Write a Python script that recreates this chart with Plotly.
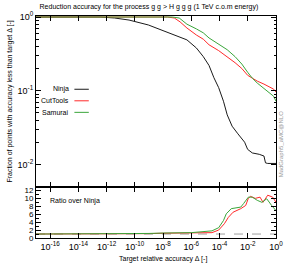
import plotly.graph_objects as go
from plotly.subplots import make_subplots

# ---------------- data ----------------
ninja_x = [1e-17, 3.5e-13, 3.7e-12, 3.9e-11, 9.1e-10, 3.4e-8, 4.9e-7, 2.3e-6, 7.1e-6,
           1.8e-5, 4.0e-5, 8.7e-5, 1.9e-4, 3.5e-4, 7.8e-4, 2.0e-3, 6.0e-3, 9.8e-3,
           2.1e-2, 6.5e-2, 0.14, 0.18, 0.26, 1.0]
ninja_y = [1.0, 1.0, 0.97, 0.91, 0.78, 0.60, 0.49, 0.38, 0.29, 0.22, 0.15, 0.11, 0.072,
           0.047, 0.033, 0.026, 0.020, 0.0160, 0.0143, 0.0137, 0.0130, 0.0105, 0.0103, 0.0103]

cuttools_x = [1e-17, 2.1e-8, 6.3e-8, 1.6e-7, 4.9e-7, 2.3e-6, 7.1e-6, 1.8e-5, 8.7e-5,
              3.5e-4, 1.26e-3, 3.8e-3, 9.8e-3, 2.1e-2, 4.7e-2, 0.14, 0.36, 0.68, 1.0]
cuttools_y = [1.0, 1.0, 0.97, 0.86, 0.71, 0.57, 0.50, 0.42, 0.35, 0.29, 0.24, 0.20,
              0.162, 0.148, 0.135, 0.123, 0.112, 0.105, 0.096]

samurai_x = [1e-17, 4.6e-8, 1.4e-7, 4.9e-7, 2.3e-6, 7.1e-6, 1.8e-5, 8.7e-5, 3.5e-4,
             1.26e-3, 3.8e-3, 9.8e-3, 2.1e-2, 4.7e-2, 0.14, 0.36, 0.68, 1.0]
samurai_y = [1.0, 1.0, 0.97, 0.80, 0.69, 0.61, 0.52, 0.43, 0.36, 0.29, 0.23, 0.178,
             0.148, 0.127, 0.108, 0.093, 0.084, 0.072]

ratio_ct_x = [1e-17, 1e-10, 1e-9, 1e-8, 1e-7, 1e-6, 2.9e-5, 8.7e-5, 2.2e-4, 4.2e-4,
              9.1e-4, 3.2e-3, 7.1e-3, 1.1e-2, 1.55e-2, 3.4e-2, 7.4e-2, 0.12, 0.26, 0.58, 1.0]
ratio_ct_y = [1.0, 1.0, 1.1, 1.2, 1.25, 1.25, 1.35, 2.0, 3.6, 5.2, 6.5, 7.4, 8.2, 10.0,
              10.5, 10.0, 10.3, 9.0, 10.8, 10.3, 9.0]

ratio_sam_x = [1e-17, 1e-11, 1e-10, 1e-9, 1e-8, 1e-7, 1e-6, 2.9e-5, 8.7e-5, 1.9e-4,
               3.0e-4, 6.8e-4, 3.2e-3, 5.1e-3, 1.1e-2, 2.1e-2, 4.7e-2, 0.10, 0.22, 0.49, 1.0]
ratio_sam_y = [1.0, 1.0, 1.05, 1.15, 1.25, 1.3, 1.35, 1.8, 2.6, 4.4, 6.1, 7.4, 7.8, 8.7,
               10.3, 10.3, 9.5, 9.0, 9.9, 8.2, 6.9]

series_names = ["Ninja", "CutTools", "Samurai"]

x_tickvals = [1e-16, 1e-14, 1e-12, 1e-10, 1e-8, 1e-6, 1e-4, 1e-2, 1e0]
x_ticktext = ["10<sup>-16</sup>", "10<sup>-14</sup>", "10<sup>-12</sup>", "10<sup>-10</sup>",
              "10<sup>-8</sup>", "10<sup>-6</sup>", "10<sup>-4</sup>", "10<sup>-2</sup>",
              "10<sup>0</sup>"]
y_tickvals = [1e-2, 1e-1, 1e0]
y_ticktext = ["10<sup>-2</sup>", "10<sup>-1</sup>", "10<sup>0</sup>"]
y_minor = [0.02, 0.03, 0.04, 0.05, 0.06, 0.07, 0.08, 0.09,
           0.2, 0.3, 0.4, 0.5, 0.6, 0.7, 0.8, 0.9]
r_tickvals = [0, 2, 4, 6, 8, 10, 12]
r_minor = [1, 3, 5, 7, 9, 11]

BLACK = "#1a1a1a"
RED = "#ff2a2a"
GREEN = "#3aa63a"
COLORS = [BLACK, RED, GREEN]
FONT = "Liberation Sans, Arial, sans-serif"

fig = make_subplots(rows=2, cols=1, shared_xaxes=True, vertical_spacing=0,
                    row_heights=[0.77, 0.23])

for name, xs, ys, c in zip(series_names, [ninja_x, cuttools_x, samurai_x],
                           [ninja_y, cuttools_y, samurai_y], COLORS):
    fig.add_trace(go.Scatter(x=xs, y=ys, mode="lines", name=name, showlegend=False,
                             line=dict(color=c, width=1)), row=1, col=1)

fig.add_trace(go.Scatter(x=ratio_ct_x, y=ratio_ct_y, mode="lines", showlegend=False,
                         line=dict(color=RED, width=1)), row=2, col=1)
fig.add_trace(go.Scatter(x=ratio_sam_x, y=ratio_sam_y, mode="lines", showlegend=False,
                         line=dict(color=GREEN, width=1)), row=2, col=1)
fig.add_hline(y=1, line=dict(color="#888888", width=0.8, dash="dash"), row=2, col=1,
              layer="below")

axis_common = dict(showline=True, linecolor="black", linewidth=1, mirror="ticks",
                   ticks="inside", tickcolor="black", ticklen=5, tickwidth=1,
                   showgrid=False, zeroline=False,
                   tickfont=dict(family=FONT, size=9, color="black"))

fig.update_xaxes(type="log", range=[-17, 0], tickvals=x_tickvals, ticktext=x_ticktext,
                 **axis_common)
fig.update_xaxes(showticklabels=False, row=1, col=1)

fig.update_yaxes(type="log", range=[-2.306, 0.014], tickvals=y_tickvals,
                 ticktext=y_ticktext,
                 minor=dict(tickvals=y_minor, ticks="inside", ticklen=2.5,
                            tickcolor="black"),
                 title=dict(text="Fraction of points with accuracy less than target Δ [-]",
                            font=dict(family=FONT, size=7, color="black"), standoff=4),
                 row=1, col=1, **axis_common)
fig.update_yaxes(range=[0, 12.88], tickvals=r_tickvals,
                 minor=dict(tickvals=r_minor, ticks="inside", ticklen=2.5,
                            tickcolor="black"),
                 row=2, col=1, **axis_common)
fig.update_yaxes(tickfont=dict(family=FONT, size=8, color="black"), row=2, col=1)

# legend drawn gnuplot-style: label on the left, line sample on the right
legend_y = [0.670, 0.618, 0.566]
for name, c, ly in zip(series_names, COLORS, legend_y):
    fig.add_annotation(text=name, xref="paper", yref="paper", x=0.145, y=ly,
                       xanchor="right", yanchor="middle", showarrow=False,
                       font=dict(family=FONT, size=7, color="black"))
    fig.add_shape(type="line", xref="paper", yref="paper", x0=0.16, x1=0.22,
                  y0=ly, y1=ly, line=dict(color=c, width=1))

fig.add_annotation(text="Ratio over Ninja", xref="paper", yref="paper",
                   x=0.048, y=0.165, xanchor="left", yanchor="middle",
                   showarrow=False, font=dict(family=FONT, size=7, color="black"))
fig.add_annotation(text="Target relative accuracy Δ [-]", xref="paper", yref="paper",
                   x=0.53, y=-0.093, xanchor="center", yanchor="middle",
                   showarrow=False, font=dict(family=FONT, size=7, color="black"))
fig.add_annotation(text="MadGraph5_aMC@NLO", xref="paper", yref="paper",
                   x=1.0, y=0.422, xshift=5, textangle=-90, xanchor="center",
                   yanchor="middle", showarrow=False,
                   font=dict(family=FONT, size=6, color="#999999"))

fig.update_layout(
    width=292, height=265,
    margin=dict(l=33, r=9, t=16, b=27),
    paper_bgcolor="white", plot_bgcolor="white",
    title=dict(text="Reduction accuracy for the process g g > H g g g (1 TeV c.o.m energy)",
               x=0.51, xanchor="center", y=0.985, yanchor="top",
               font=dict(family=FONT, size=7, color="black")),
    showlegend=False,
)

fig.write_html("out.html", config={"displayModeBar": False},
               post_script="document.body.style.margin='0';document.body.style.overflow='hidden';")
